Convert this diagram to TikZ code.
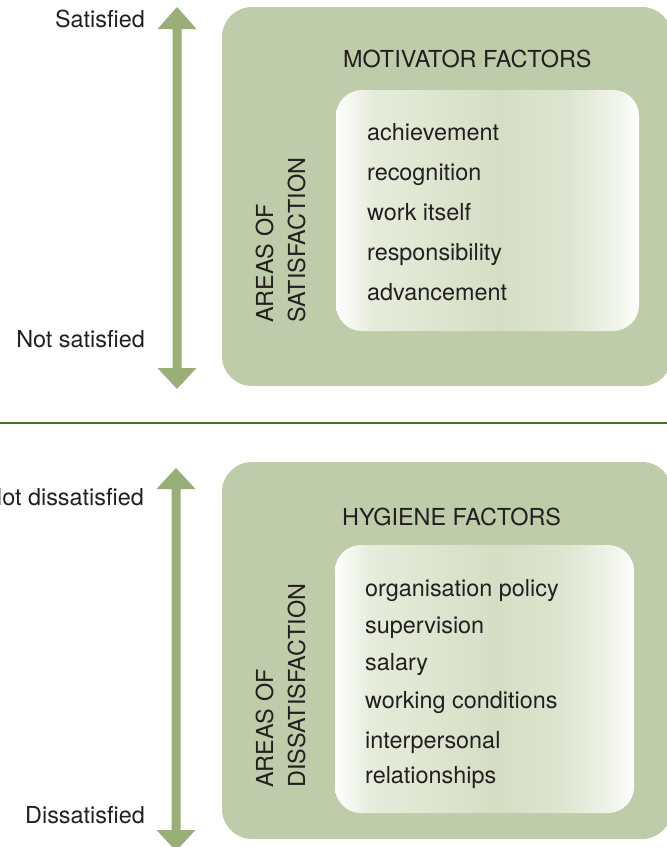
\documentclass[tikz,border=0pt]{standalone}
\usepackage{fontspec}
\setmainfont{TeX Gyre Heros}
\definecolor{boxgreen}{HTML}{BFCCA9}
\definecolor{arrowgreen}{HTML}{9AAF78}
\definecolor{rulegreen}{HTML}{4E6B2A}
\definecolor{txt}{HTML}{231F20}
\definecolor{shadeA}{HTML}{E6ECDB}
\definecolor{shadeB}{HTML}{D5DEC5}
\definecolor{shadeC}{HTML}{DDE5D0}
\definecolor{shadeD}{HTML}{F2F5EC}
% white edges, green in the middle, slightly off-centre
\pgfdeclarehorizontalshading{innershade}{100bp}{%
  color(0bp)=(white); color(25bp)=(white!97!shadeA); color(31bp)=(shadeA);
  color(52bp)=(shadeB); color(63bp)=(shadeC); color(72bp)=(shadeD);
  color(75bp)=(white); color(100bp)=(white)}
\begin{document}
\begin{tikzpicture}[x=1pt,y=-1pt,
  lbl/.style={font=\fontsize{23.4}{30}\selectfont, text=txt, inner sep=0pt},
  sidelbl/.style={font=\fontsize{23.4}{30}\selectfont, text=txt, inner sep=0pt,
    rotate=90, anchor=base west},
  item/.style={lbl, anchor=base west},
  outerbox/.style={fill=boxgreen, rounded corners=30pt},
  innerbox/.style={shading=innershade, rounded corners=26pt},
  arrowfill/.style={fill=arrowgreen}]
\useasboundingbox (0,0) rectangle (667,847);
\clip (0,0) rectangle (667,847);

% ---- upper panel: motivators ----
\fill[outerbox] (222,7) rectangle (672,386);
\shade[innerbox] (336,90) rectangle (639,331);
\fill[arrowfill] (177,7) -- (196.5,29) -- (181.5,29) -- (181.5,368) -- (196.5,368)
  -- (177,389) -- (157.5,368) -- (172.5,368) -- (172.5,29) -- (157.5,29) -- cycle;

\node[lbl, anchor=base east] (sat) at (145,27) {Satisfied};
\node[lbl, anchor=base east] (notsat) at (145,347) {Not satisfied};
\node[lbl, anchor=base west] (mot) at (343,67) {MOTIVATOR FACTORS};
\node[sidelbl] (areas1) at (273,323) {AREAS OF};
\node[sidelbl] (areas2) at (305,323) {SATISFACTION};
\node[item] (m1) at (367,140) {achievement};
\node[item] (m2) at (367,180) {recognition};
\node[item] (m3) at (367,220) {work itself};
\node[item] (m4) at (367,260) {responsibility};
\node[item] (m5) at (367,300) {advancement};

% ---- dividing rule ----
\draw[rulegreen, line width=1.5pt] (0,423) -- (667,423);

% ---- lower panel: hygiene factors ----
\fill[outerbox] (222,462) rectangle (672,839);
\shade[innerbox] (335,545) rectangle (634,813);
\fill[arrowfill] (176,468) -- (195.5,489) -- (180.5,489) -- (180.5,830) -- (195.5,830)
  -- (176,851) -- (156.5,830) -- (171.5,830) -- (171.5,489) -- (156.5,489) -- cycle;

\node[lbl, anchor=base east] (notdis) at (144,505) {Not dissatisfied};
\node[lbl, anchor=base east] (dis) at (145,823) {Dissatisfied};
\node[lbl, anchor=base west] (hyg) at (342,525) {HYGIENE FACTORS};
\node[sidelbl] (areas3) at (273,788) {AREAS OF};
\node[sidelbl] (areas4) at (305,788) {DISSATISFACTION};
\node[item] (h1) at (365,596) {organisation policy};
\node[item] (h2) at (365,633) {supervision};
\node[item] (h3) at (365,670) {salary};
\node[item] (h4) at (365,708) {working conditions};
\node[item] (h5) at (365,748) {interpersonal};
\node[item] (h6) at (365,783) {relationships};
\end{tikzpicture}
\end{document}
